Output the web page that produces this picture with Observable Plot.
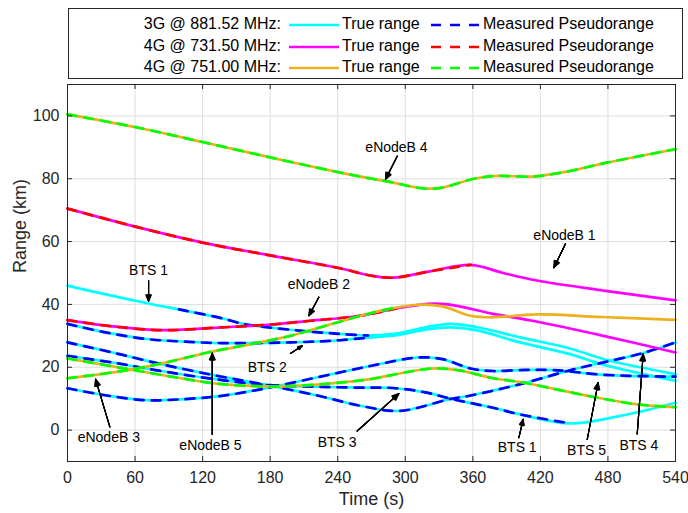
<!DOCTYPE html>
<html><head><meta charset="utf-8">
<script src="https://cdn.jsdelivr.net/npm/d3@7"></script>
<script src="https://cdn.jsdelivr.net/npm/@observablehq/plot@0.6"></script>
<style>
body{margin:0;background:#fff;font-family:"Liberation Sans",Arial,Helvetica,sans-serif;}
#wrap{position:relative;width:688px;height:513px;overflow:hidden;}
#legend{position:relative;height:80px;}
#box{position:absolute;left:68px;top:8px;width:615px;height:71px;border:1px solid #262626;box-sizing:border-box;background:#fff;}
.txt{position:absolute;font-size:16px;line-height:18px;color:#000;white-space:nowrap;}
.sw{position:absolute;}
</style></head>
<body><div id="wrap"><div id="legend"><div id="box"></div></div></div>
<script>
// ---- data ----
const xTicks = [0, 60, 120, 180, 240, 300, 360, 420, 480, 540];
const yTicks = [0, 20, 40, 60, 80, 100];

const groupLabels = ["3G @ 881.52 MHz:", "4G @ 731.50 MHz:", "4G @ 751.00 MHz:"];
const trueColors = ["#00ffff", "#ff00ff", "#edb120"];
const measColors = ["#0000ff", "#ff0000", "#00ff00"];

// 3G cells [time s, range km]
const bts1 = [[0,46],[30,43.5],[73,40.2],[99,38.4],[137,35.6],[156,33.8],[202,31.8],[242,30.6],[267,30.1],[292,30.7],[318,32.7],[340,33.8],[363,32.8],[402,29.5],[447,25.9],[479,22.3],[540,17.8]];
const bts2 = [[0,33.8],[35,31],[70,29.0],[101,28.2],[137,27.7],[198,27.9],[242,28.6],[269,29.5],[292,30.2],[318,32],[340,32.7],[363,31.8],[402,27.9],[447,24.1],[479,20.5],[540,15.7]];
const bts3 = [[0,23.6],[40,21.5],[83,18.8],[131,16.2],[176,14.4],[222,13.8],[260,13.5],[289,13.4],[318,12],[340,10],[378,7.1],[403,4.9],[447,2.1],[491,4.5],[540,8.7]];
const bts4 = [[0,27.9],[40,24.7],[83,21],[131,17.4],[176,14.4],[222,11],[262,7.6],[295,6.1],[340,9.9],[358,11],[402,14.6],[447,19.1],[479,21.8],[511,24.5],[540,27.9]];
const bts5 = [[0,13.3],[35,11],[70,9.5],[101,9.8],[137,10.9],[176,13.3],[222,16.8],[269,20.4],[311,23.1],[333,22.6],[358,19.6],[378,18.8],[402,19.1],[432,19.1],[476,17.6],[540,17.0]];
// 4G @ 731.50 MHz
const enb1 = [[0,70.5],[62,64.6],[121,59.6],[180,55.6],[242,51.5],[269,49.2],[289,48.5],[323,50.6],[358,52.6],[387,50],[417,47.6],[476,44.4],[540,41.3]];
const enb2 = [[0,35],[40,33],[85,31.8],[137,32.7],[181,33.6],[216,34.8],[260,36.4],[292,38.7],[320,40.2],[338,40],[378,37],[413,34.8],[476,30],[540,24.7]];
// 4G @ 751.00 MHz
const enb3 = [[0,16.5],[54,19.1],[91,21.8],[127,24.9],[137,25.6],[198,30],[232,33.5],[269,37.2],[289,38.8],[311,39.9],[333,39.4],[358,36.4],[376,35.9],[417,36.8],[474,36],[540,35.1]];
const enb4 = [[0,100.5],[62,96.3],[121,91.6],[180,86.8],[239,82.2],[269,80.1],[286,79],[317,76.9],[333,77.2],[361,80],[381,80.9],[414,80.7],[444,82.3],[476,84.9],[540,89.4]];
const enb5 = [[0,22.8],[54,19.4],[101,16.5],[137,14.6],[187,13.9],[232,14.8],[269,16.2],[302,18.5],[325,19.6],[348,19],[378,16.5],[402,15.3],[462,10.9],[506,8.2],[540,7.3]];

const cells = [
  {id:"BTS1", group:0, pts:bts1, meas:[99,267]},
  {id:"BTS2", group:0, pts:bts2, meas:[0,269]},
  {id:"BTS3", group:0, pts:bts3, meas:[0,447]},
  {id:"BTS4", group:0, pts:bts4, meas:[0,540]},
  {id:"BTS5", group:0, pts:bts5, meas:[0,540]},
  {id:"eNB1", group:1, pts:enb1, meas:[0,358]},
  {id:"eNB2", group:1, pts:enb2, meas:[0,292]},
  {id:"eNB3", group:2, pts:enb3, meas:[0,289]},
  {id:"eNB4", group:2, pts:enb4, meas:[0,540]},
  {id:"eNB5", group:2, pts:enb5, meas:[0,540]}
];

// annotation labels (data units): text position, arrow tail, arrow tip
const annoLabels = ["BTS 1","eNodeB 2","BTS 2","eNodeB 3","eNodeB 5","BTS 3","eNodeB 4","eNodeB 1","BTS 1","BTS 5","BTS 4"];
const annoText  = [[72,50.8],[223.3,46.3],[177.4,19.9],[36.7,-2.4],[127,-4.8],[239.5,-4.1],[292.2,89.8],[441.4,62],[399.4,-5.6],[461,-6.5],[507.5,-4.9]];
const annoTail  = [[72,47.6],[223.2,42.3],[198,24.4],[37.6,1.0],[128.6,-1.4],[257.3,-0.3],[292.8,87.2],[442.3,59.3],[400.9,-2.4],[461.6,-3.0],[506,-1.2]];
const annoTip   = [[72,41.0],[214.4,36.4],[208.4,26.8],[24.9,16.2],[128.6,24.5],[294.3,11.6],[282.4,79.8],[432,51.7],[404.7,3.4],[471.3,15.1],[511.3,24.2]];

// ---- build tables ----
const rows = (c, filt) => c.pts.filter(([t]) => !filt || (t >= c.meas[0] && t <= c.meas[1])).map(([t, v]) => ({id: c.id, t, v}));
const annos = annoLabels.map((label, i) => ({label, tx: annoText[i][0], ty: annoText[i][1], x1: annoTail[i][0], y1: annoTail[i][1], x2: annoTip[i][0], y2: annoTip[i][1]}));

const W = 688, H = 433, mL = 67, mR = 13, mT = 4, mB = 52;
const plotW = W - mL - mR, plotH = H - mT - mB;
const dash = "9,8";

const lineMarks = [];
[0, 1, 2].forEach(g => {
  const cs = cells.filter(c => c.group === g);
  lineMarks.push(Plot.line(cs.flatMap(c => rows(c, false)), {x: "t", y: "v", z: "id", stroke: trueColors[g], strokeWidth: 2.7, curve: "catmull-rom"}));
  lineMarks.push(Plot.line(cs.flatMap(c => rows(c, true)), {x: "t", y: "v", z: "id", stroke: measColors[g], strokeWidth: 2.7, strokeDasharray: dash, curve: "catmull-rom"}));
});

const arrowMarks = [8, 18, 28, 38, 48].map(a => Plot.arrow(annos, {x1: "x1", y1: "y1", x2: "x2", y2: "y2", stroke: "#000", strokeWidth: 1.1, headLength: 10, headAngle: a}));

const chart = Plot.plot({
  width: W, height: H,
  marginLeft: mL, marginRight: mR, marginTop: mT, marginBottom: mB,
  style: {fontFamily: "Liberation Sans, Arial, Helvetica, sans-serif", color: "#262626", background: "#fff"},
  x: {domain: [0, 540], label: null},
  y: {domain: [-10, 110], label: null},
  marks: [
    Plot.gridX(xTicks, {stroke: "#dedede", strokeOpacity: 1}),
    Plot.gridY(yTicks, {stroke: "#dedede", strokeOpacity: 1}),
    ...lineMarks,
    ...arrowMarks,
    Plot.text(annos, {x: "tx", y: "ty", text: "label", fontSize: 14, fill: "#000"}),
    Plot.frame({stroke: "#262626", strokeWidth: 1}),
    Plot.tickX(xTicks, {x: d => d, insetTop: plotH - 5, stroke: "#262626"}),
    Plot.tickX(xTicks, {x: d => d, insetBottom: plotH - 5, stroke: "#262626"}),
    Plot.tickY(yTicks, {y: d => d, insetRight: plotW - 5, stroke: "#262626"}),
    Plot.tickY(yTicks, {y: d => d, insetLeft: plotW - 5, stroke: "#262626"}),
    Plot.axisX(xTicks, {tickSize: 0, tickPadding: 10, fontSize: 16, label: null}),
    Plot.axisY(yTicks, {tickSize: 0, tickPadding: 8, fontSize: 16, label: null}),
    Plot.text(["Time (s)"], {frameAnchor: "bottom", dy: 43, fontSize: 18, fill: "#262626"}),
    Plot.text(["Range (km)"], {frameAnchor: "left", dx: -47, rotate: -90, fontSize: 18, fill: "#262626"})
  ]
});
document.getElementById("wrap").appendChild(chart);

// ---- legend ----
const box = document.getElementById("box");
const rowY = [16, 37.5, 59];
groupLabels.forEach((lab, g) => {
  const y = rowY[g];
  const l = document.createElement("div");
  l.className = "txt"; l.textContent = lab;
  l.style.left = "0px"; l.style.width = "212px"; l.style.textAlign = "right"; l.style.top = (y - 10) + "px";
  box.appendChild(l);
  const s1 = document.createElementNS("http://www.w3.org/2000/svg", "svg");
  s1.setAttribute("class", "sw"); s1.setAttribute("width", 52); s1.setAttribute("height", 6);
  s1.style.left = "220px"; s1.style.top = (y - 3) + "px";
  s1.innerHTML = `<line x1="0" x2="50" y1="3" y2="3" stroke="${trueColors[g]}" stroke-width="2.7"/>`;
  box.appendChild(s1);
  const t1 = document.createElement("div");
  t1.className = "txt"; t1.textContent = "True range"; t1.style.left = "273px"; t1.style.top = (y - 10) + "px";
  box.appendChild(t1);
  const s2 = document.createElementNS("http://www.w3.org/2000/svg", "svg");
  s2.setAttribute("class", "sw"); s2.setAttribute("width", 50); s2.setAttribute("height", 6);
  s2.style.left = "362px"; s2.style.top = (y - 3) + "px";
  s2.innerHTML = `<line x1="0" x2="48" y1="3" y2="3" stroke="${measColors[g]}" stroke-width="2.7" stroke-dasharray="10,9"/>`;
  box.appendChild(s2);
  const t2 = document.createElement("div");
  t2.className = "txt"; t2.textContent = "Measured Pseudorange"; t2.style.left = "414px"; t2.style.top = (y - 10) + "px";
  box.appendChild(t2);
});
</script></body></html>
